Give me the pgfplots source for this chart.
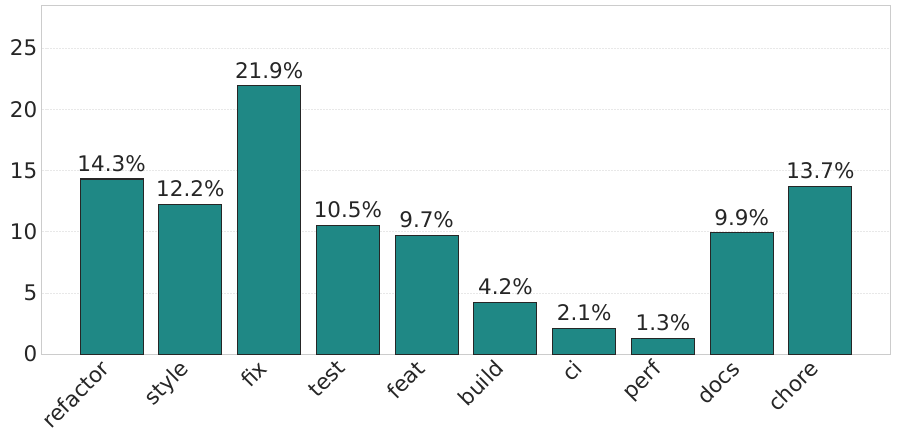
\documentclass[border=0pt]{standalone}
\usepackage{pgfplots}
\pgfplotsset{compat=1.18}
\usepackage{fontspec}
\setmainfont{DejaVu Sans}
\definecolor{barc}{RGB}{31,136,133}
\definecolor{txt}{RGB}{38,38,38}
\definecolor{frame}{RGB}{204,204,204}
\definecolor{gridc}{RGB}{232,232,232}
\begin{document}
\begin{tikzpicture}
\begin{axis}[
  scale only axis,
  width=850bp, height=349bp,
  xmin=-0.89, xmax=9.89,
  ymin=0, ymax=28.47,
  ytick={0,5,10,15,20,25},
  xtick={0,...,9},
  xticklabels={refactor,style,fix,test,feat,build,ci,perf,docs,chore},
  x tick label style={xshift=-12bp, rotate=45, anchor=north east, inner sep=3bp},
  y tick label style={inner sep=4bp},
  tick style={draw=none},
  ymajorgrids,
  grid style={gridc, line width=0.6bp, dash pattern=on 2bp off 1bp},
  axis line style={frame, line width=1bp},
  tick label style={font=\fontsize{21.5bp}{25bp}\selectfont, text=txt},
  /pgf/number format/assume math mode=true,
  nodes near coords={\pgfmathprintnumber[fixed,precision=1,fixed zerofill]{\pgfplotspointmeta}\%},
  nodes near coords style={font=\fontsize{21.5bp}{25bp}\selectfont, text=txt, anchor=south, inner sep=0bp, yshift=7bp},
]
\addplot[ybar, bar width=0.8, fill=barc, draw=black!85, line width=1.1bp] coordinates {
(0,14.3) (1,12.2) (2,21.9) (3,10.5) (4,9.7) (5,4.2) (6,2.1) (7,1.3) (8,9.9) (9,13.7)
};
\end{axis}
\path ([shift={(-6bp,-8bp)}]current bounding box.south west) rectangle ([shift={(6bp,5bp)}]current bounding box.north east);
\end{tikzpicture}
\end{document}
